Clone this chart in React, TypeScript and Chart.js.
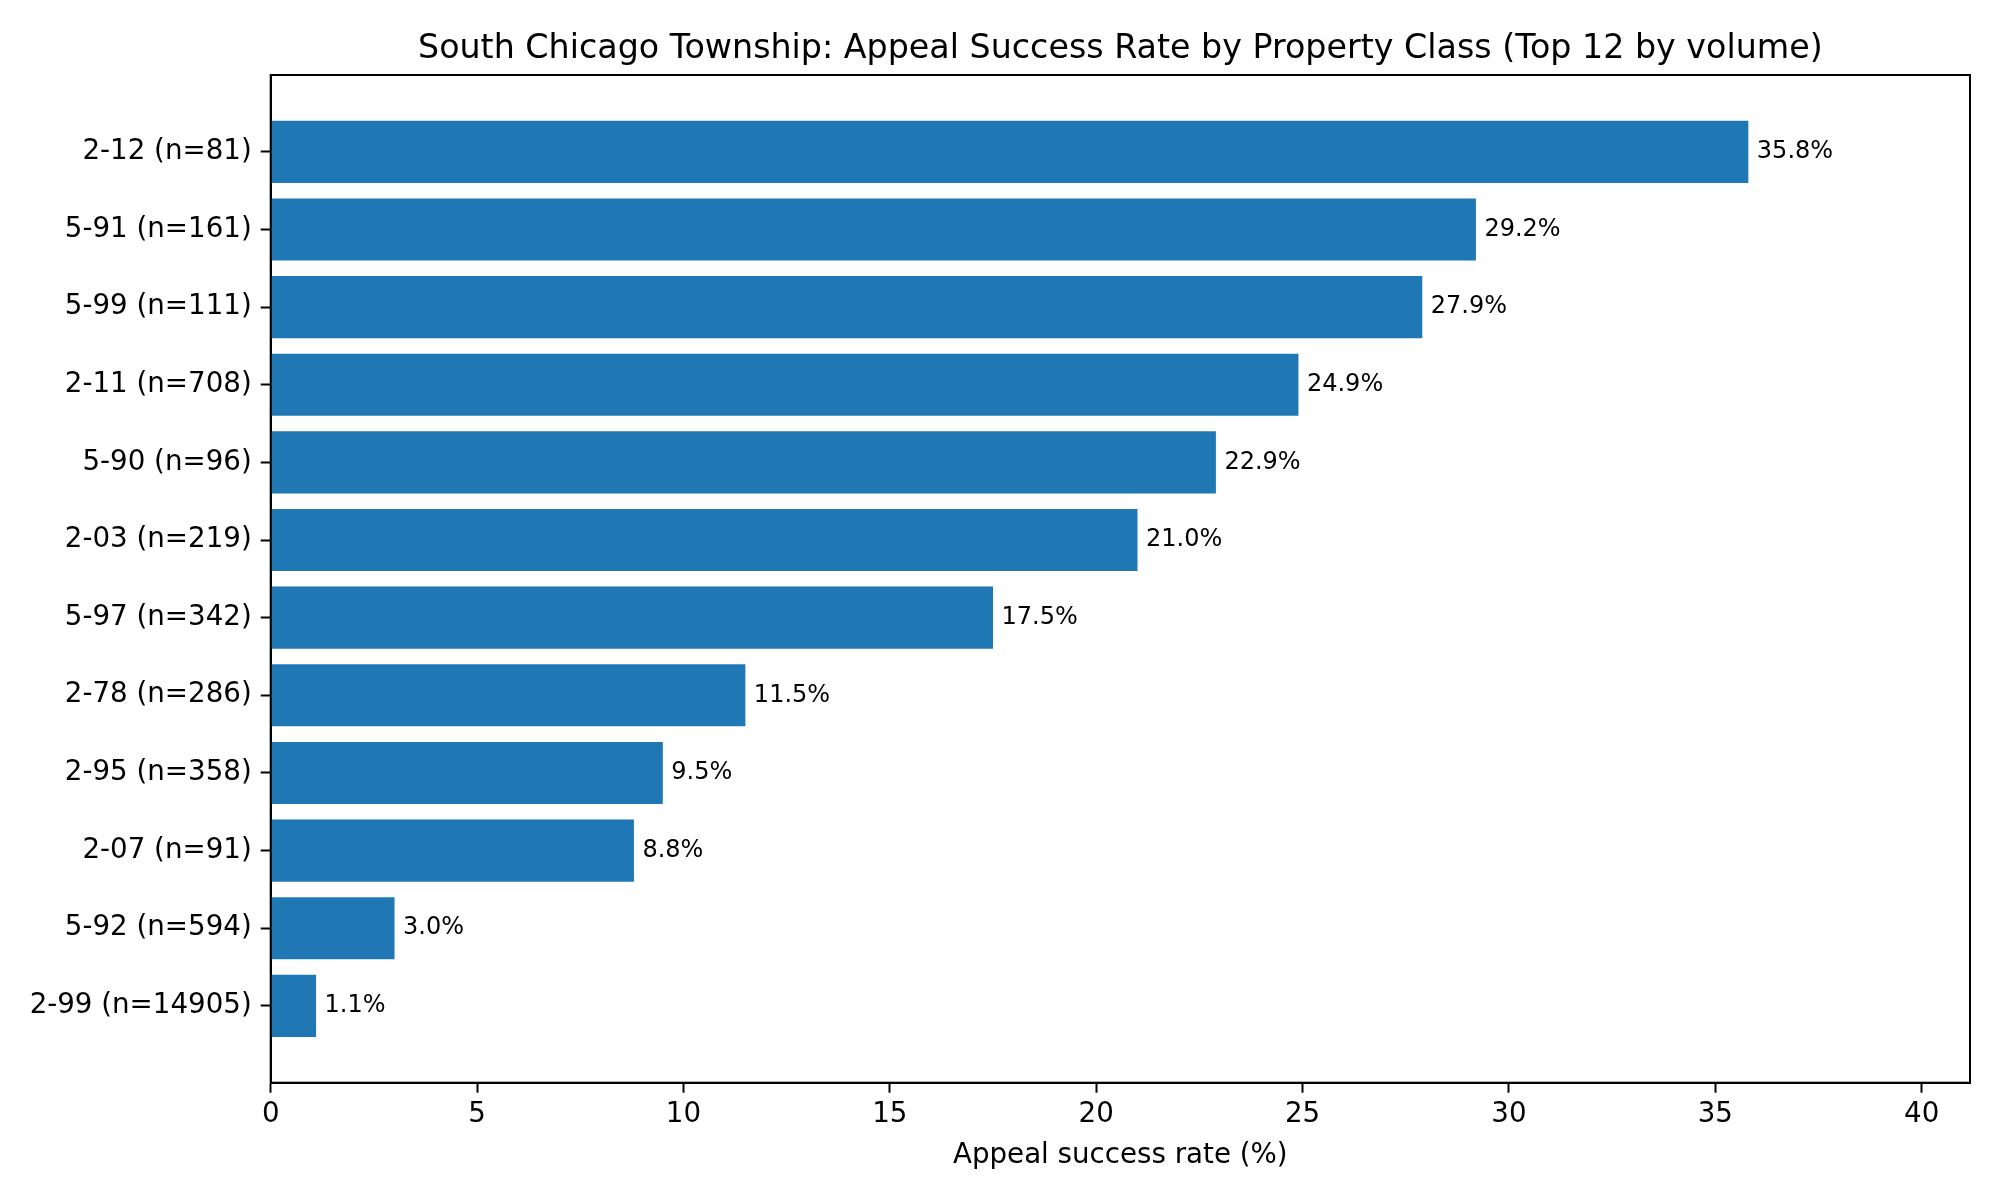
import React, { useEffect, useRef } from "react";
import { Chart, registerables } from "chart.js";

Chart.register(...registerables);

const categories = [
  "2-12 (n=81)",
  "5-91 (n=161)",
  "5-99 (n=111)",
  "2-11 (n=708)",
  "5-90 (n=96)",
  "2-03 (n=219)",
  "5-97 (n=342)",
  "2-78 (n=286)",
  "2-95 (n=358)",
  "2-07 (n=91)",
  "5-92 (n=594)",
  "2-99 (n=14905)",
];
const successRates = [35.8, 29.2, 27.9, 24.9, 22.9, 21.0, 17.5, 11.5, 9.5, 8.8, 3.0, 1.1];
const xTickValues = [0, 5, 10, 15, 20, 25, 30, 35, 40];

const chartTitle = "South Chicago Township: Appeal Success Rate by Property Class (Top 12 by volume)";
const xAxisTitle = "Appeal success rate (%)";

const FONT = "'DejaVu Sans', sans-serif";

const overlayPlugin = {
  id: "overlay",
  afterDatasetsDraw(chart: any) {
    const ctx = chart.ctx;
    const meta = chart.getDatasetMeta(0);
    ctx.save();
    ctx.fillStyle = "#000";
    ctx.font = `24px ${FONT}`;
    ctx.textAlign = "left";
    ctx.textBaseline = "middle";
    meta.data.forEach((el: any, i: number) => {
      ctx.fillText(`${successRates[i].toFixed(1)}%`, el.x + 8.5, el.y);
    });
    ctx.restore();
  },
  afterDraw(chart: any) {
    const ctx = chart.ctx;
    const a = chart.chartArea;
    ctx.save();
    ctx.strokeStyle = "#000";
    ctx.lineWidth = 2;
    ctx.strokeRect(a.left, a.top, a.right - a.left, a.bottom - a.top);
    ctx.fillStyle = "#000";
    ctx.textAlign = "center";
    ctx.font = `33.3px ${FONT}`;
    ctx.textBaseline = "alphabetic";
    const cx = (a.left + a.right) / 2;
    ctx.fillText(chartTitle, cx, a.top - 16.7);
    ctx.font = `27.7px ${FONT}`;
    ctx.textBaseline = "alphabetic";
    ctx.fillText(xAxisTitle, cx, 1163.3);
    ctx.restore();
  },
};

export default function App() {
  const ref = useRef<HTMLCanvasElement | null>(null);

  useEffect(() => {
    document.body.style.margin = "0";
    if (!ref.current) return;
    const chart = new Chart(ref.current, {
      type: "bar",
      data: {
        datasets: [
          {
            data: successRates.map((v, i) => ({ x: v, y: i })),
            backgroundColor: "#1f77b4",
            borderWidth: 0,
            barPercentage: 0.8,
            categoryPercentage: 1,
          },
        ],
      },
      options: {
        indexAxis: "y",
        responsive: false,
        animation: false,
        devicePixelRatio: 1,
        layout: { padding: { top: 75, right: 30, left: 0, bottom: 0 } },
        plugins: {
          legend: { display: false },
          tooltip: { enabled: false },
          title: { display: false },
        },
        scales: {
          x: {
            type: "linear",
            min: 0,
            max: 41.17,
            offset: false,
            afterBuildTicks: (scale: any) => {
              scale.ticks = xTickValues.map((v) => ({ value: v }));
            },
            afterFit: (scale: any) => {
              scale.height = 117.3;
            },
            grid: {
              offset: false,
              drawOnChartArea: false,
              drawTicks: true,
              tickLength: 10,
              tickColor: "#000",
              tickWidth: 2,
            },
            border: { display: true, color: "#000", width: 2 },
            ticks: {
              color: "#000",
              font: { family: FONT, size: 27.7 },
              padding: 5,
              maxRotation: 0,
              autoSkip: false,
              callback: (v: any) => String(v),
            },
          },
          y: {
            type: "linear",
            reverse: true,
            min: -0.99,
            max: 11.99,
            offset: false,
            afterBuildTicks: (scale: any) => {
              scale.ticks = categories.map((_, i) => ({ value: i }));
            },
            afterFit: (scale: any) => {
              scale.width = 270.7;
            },
            grid: {
              offset: false,
              drawOnChartArea: false,
              drawTicks: true,
              tickLength: 10,
              tickColor: "#000",
              tickWidth: 2,
            },
            border: { display: true, color: "#000", width: 2 },
            ticks: {
              color: "#000",
              font: { family: FONT, size: 27.7 },
              padding: 9,
              autoSkip: false,
              callback: (v: any) => categories[v as number] ?? "",
            },
          },
        },
      },
      plugins: [overlayPlugin],
    } as any);
    return () => chart.destroy();
  }, []);

  return (
    <div style={{ position: "absolute", left: 0, top: 0, width: 2000, height: 1200, background: "#fff" }}>
      <canvas ref={ref} width={2000} height={1200} style={{ width: 2000, height: 1200 }} />
    </div>
  );
}
